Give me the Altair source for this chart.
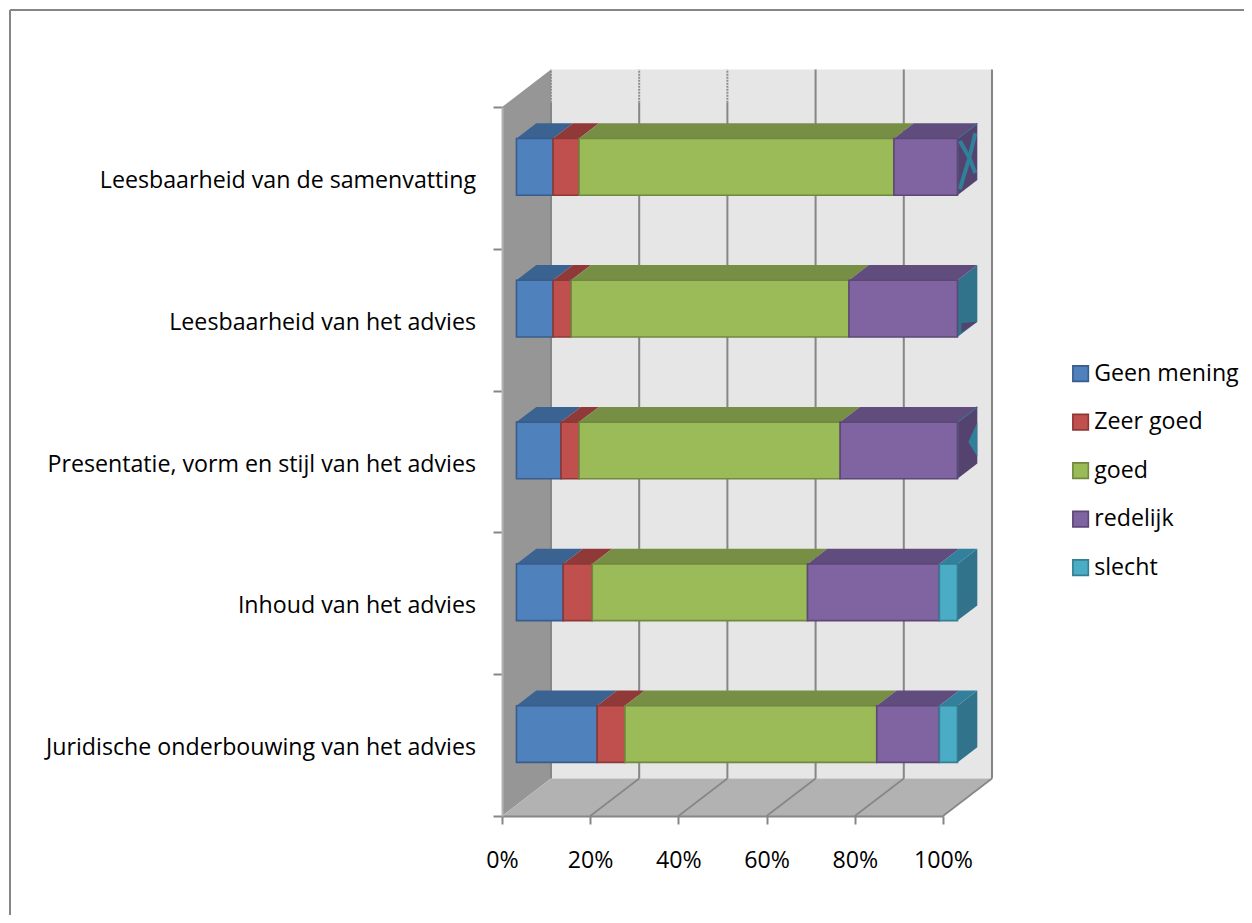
import altair as alt
import pandas as pd

# ---- data (percent of each row) ----
categories = [
    "Juridische onderbouwing van het advies",
    "Inhoud van het advies",
    "Presentatie, vorm en stijl van het advies",
    "Leesbaarheid van het advies",
    "Leesbaarheid van de samenvatting",
]
series = ["Geen mening", "Zeer goed", "goed", "redelijk", "slecht"]
geen_mening = [18.3, 10.6, 10.1, 8.3, 8.3]
zeer_goed = [6.3, 6.6, 4.1, 4.1, 5.9]
goed = [57.1, 48.8, 59.2, 63.0, 71.4]
redelijk = [14.2, 29.9, 26.6, 24.6, 14.4]
slecht = [4.1, 4.1, 0.0, 0.0, 0.0]
x_ticks = [0, 20, 40, 60, 80, 100]
y_ticks = [0, 1, 2, 3, 4, 5]

front_colors = ["#4F81BD", "#C0504D", "#9BBB59", "#8064A2", "#4BACC6"]
edge_colors = ["#385D8A", "#8C3836", "#71893F", "#5C4776", "#357D91"]
top_colors = ["#3A6391", "#8F3A38", "#778F45", "#604C7D", "#33809C"]
side_colors = ["#3A6391", "#8F3A38", "#778F45", "#55436F", "#31738A"]
TEAL = "#31809A"
PURPLE_SIDE = "#55436F"

# ---- 3-D projection, in data units ----
DX = 11.11   # full depth of the box along x
DY = 0.2645  # full depth of the box along y
BAR_FRONT, BAR_BACK = 0.295, 0.70   # depth of the bars inside the box
BAR_HALF = 0.2                      # half height of a bar in category units
AXIS_COL = "#868686"
FONT = "Open Sans"
FONT_SIZE = 23.2


def px(v, d):
    return v + d * DX


def py(s, d):
    return s + d * DY


def face(r, f, h):
    """A point on the right-hand end of bar r: f along the depth, h around the bar centre."""
    d = BAR_FRONT + f * (BAR_BACK - BAR_FRONT)
    return px(100, d), py(r + 0.5 + h, d)


X = alt.Scale(domain=[0, 100], nice=False, zero=False)
Y = alt.Scale(domain=[0, 5], nice=False, zero=False)
X_AXIS = alt.Axis(values=x_ticks, labelExpr="datum.value + '%'", grid=False, tickSize=8, tickWidth=2,
                  tickColor=AXIS_COL, domainColor=AXIS_COL, domainWidth=2, labelFont=FONT,
                  labelFontSize=FONT_SIZE, labelColor="#000000", labelPadding=25, zindex=1, title=None,
                  labelFlush=False, labelOverlap=False, labelBound=False)
Y_AXIS = alt.Axis(values=y_ticks, labels=False, grid=False, tickSize=9, tickWidth=2,
                  tickColor=AXIS_COL, domainColor="#B4B4B4", domainWidth=2, zindex=1, title=None)


def xq(field="x"):
    return alt.X(f"{field}:Q", scale=X, axis=X_AXIS, title=None)


def yq(field="y"):
    return alt.Y(f"{field}:Q", scale=Y, axis=Y_AXIS, title=None)


values = [geen_mening, zeer_goed, goed, redelijk, slecht]
front, tops, sides = [], [], []
for r, cat in enumerate(categories):
    c = 0.0
    for k, name in enumerate(series):
        v = values[k][r]
        if v > 0:
            yc = r + 0.5
            y0, y1 = yc - BAR_HALF, yc + BAR_HALF
            front.append(dict(series=name, x=px(c, BAR_FRONT), x2=px(c + v, BAR_FRONT),
                              y=py(y0, BAR_FRONT), y2=py(y1, BAR_FRONT)))
            for d in (BAR_FRONT, BAR_BACK):
                tops.append(dict(id=f"{r}-{k}", series=name, x=px(c, d), x2=px(c + v, d), y=py(y1, d)))
        c += v
    last = "slecht" if slecht[r] > 0 or r == 3 else "redelijk"
    for d in (BAR_FRONT, BAR_BACK):
        sides.append(dict(id=str(r), series=last, x=px(100, d),
                          y=py(r + 0.5 - BAR_HALF, d), y2=py(r + 0.5 + BAR_HALF, d)))

front_df = pd.DataFrame(front)
top_df = pd.DataFrame(tops)
side_df = pd.DataFrame(sides)

# flicker on the end faces of the bars whose "slecht" share is nil
B = BAR_HALF


def line_rows(name, pts):
    rows = []
    for i, (f, h, r) in enumerate(pts):
        xv, yv = face(r, f, h)
        rows.append(dict(id=name, seq=i, x=xv, y=yv))
    return rows


edge_rows = []
for r in (2, 4):
    edge_rows += line_rows(f"edge{r}", [(0, -B, r), (0, B, r), (1, B, r)])
x_rows = line_rows("xa", [(0.12, B * 0.85, 4), (0.6, 0, 4), (0.12, -B * 0.85, 4)]) + line_rows(
    "xb", [(0.9, B * 0.7, 4), (0.6, 0, 4), (0.9, -B * 0.7, 4)])
edge_df = pd.DataFrame(edge_rows)
x_df = pd.DataFrame(x_rows)

patches = []


def add_patch(name, r, rows):
    for f, lo, hi in rows:
        xv, yv = face(r, f, lo)
        _, yv2 = face(r, f, hi)
        patches.append(dict(id=name, series=name.split("-")[0], x=xv, y=yv, y2=yv2))


add_patch("teal-3", 2, [(0.55, 0.0, 0.0), (1.0, -0.15, 0.09)])
add_patch("purple-2", 3, [(0.2, -B + 0.01, -B + 0.075), (1.0, -B, -B)])
patch_df = pd.DataFrame(patches)

# walls and floor
left_wall = pd.DataFrame([dict(x=px(0, d), y=py(0, d), y2=py(5, d)) for d in (0, 1)])
back_wall = pd.DataFrame([dict(x=px(0, 1), x2=px(100, 1), y=py(0, 1), y2=py(5, 1))])
floor = pd.DataFrame([dict(x=px(0, d), x2=px(100, d), y=py(0, d)) for d in (0, 1)])
solid_top = 5.03
grid = pd.DataFrame([dict(x=px(t, 1), y=py(0, 1), y2=py(5, 1) if t > 40 else solid_top) for t in x_ticks])
squiggle = pd.DataFrame([dict(x=px(t, 1), y=solid_top, y2=py(5, 1)) for t in x_ticks if t <= 40])
floor_lines = pd.DataFrame([dict(t=t, x=px(t, d), y=py(0, d)) for t in x_ticks[1:] for d in (0, 1)])

wall_left = alt.Chart(left_wall).mark_area(color="#969696", opacity=1).encode(
    x=xq(), y=yq(), y2="y2:Q")
wall_back = alt.Chart(back_wall).mark_rect(color="#E6E6E6").encode(
    x=xq(), x2="x2:Q", y=yq(), y2="y2:Q")
floor_plane = alt.Chart(floor).mark_area(color="#B2B2B2", orient="horizontal", opacity=1).encode(
    y=yq(), x=xq(), x2="x2:Q")
grid_rules = alt.Chart(grid).mark_rule(color=AXIS_COL, strokeWidth=2).encode(
    x=xq(), y=yq(), y2="y2:Q")
grid_soft = alt.Chart(squiggle).mark_rule(color="#8E8E8E", strokeWidth=2, strokeDash=[2, 1]).encode(
    x=xq(), y=yq(), y2="y2:Q")
floor_rules = alt.Chart(floor_lines).mark_line(color=AXIS_COL, strokeWidth=1.6).encode(
    x=xq(), y=yq(), detail="t:N")

top_faces = alt.Chart(top_df).mark_area(orient="horizontal", opacity=1).encode(
    y=yq(), x=xq(), x2="x2:Q", detail="id:N",
    fill=alt.Fill("series:N", scale=alt.Scale(domain=series, range=top_colors), legend=None),
)
side_faces = alt.Chart(side_df).mark_area(opacity=1).encode(
    x=xq(), y=yq(), y2="y2:Q", detail="id:N",
    fill=alt.Fill("series:N", scale=alt.Scale(domain=series, range=side_colors), legend=None),
)
side_patches = alt.Chart(patch_df).mark_area(opacity=1).encode(
    x=xq(), y=yq(), y2="y2:Q", detail="id:N",
    fill=alt.Fill("series:N", scale=alt.Scale(domain=["teal", "purple"], range=[TEAL, PURPLE_SIDE]), legend=None),
)
side_edges = alt.Chart(edge_df).mark_line(color=TEAL, strokeWidth=1.6).encode(
    x=alt.X("x:Q", scale=X, axis=X_AXIS, title=None, sort=None),
    y=yq(), detail="id:N", order="seq:Q",
)
side_x = alt.Chart(x_df).mark_line(color=TEAL, strokeWidth=4).encode(
    x=alt.X("x:Q", scale=X, axis=X_AXIS, title=None, sort=None),
    y=yq(), detail="id:N", order="seq:Q",
)

legend = alt.Legend(orient="none", legendX=567, legendY=255, title=None,
                    symbolType="square", symbolSize=240, symbolStrokeWidth=1.6,
                    labelFont=FONT, labelFontSize=FONT_SIZE, labelColor="#000000",
                    rowPadding=24.5, labelOffset=2, symbolOpacity=1)
front_faces = alt.Chart(front_df).mark_rect(strokeWidth=1.6).encode(
    x=xq(), x2="x2:Q", y=yq(), y2="y2:Q",
    fill=alt.Fill("series:N", scale=alt.Scale(domain=series, range=front_colors), legend=legend),
    stroke=alt.Stroke("series:N", scale=alt.Scale(domain=series, range=edge_colors), legend=legend),
)

labels = alt.Chart(pd.DataFrame({"cat": categories, "pos": [i + 0.5 for i in range(5)], "x": [0.0] * 5})).mark_text(
    align="right", baseline="middle", dx=-26, dy=3, font=FONT, fontSize=FONT_SIZE, color="#000000"
).encode(x=xq(), y=yq("pos"), text="cat:N")

border_left = alt.Chart(pd.DataFrame({"a": [0]})).mark_rule(color=AXIS_COL, strokeWidth=2).encode(
    x=alt.value(-492), y=alt.value(-97), y2=alt.value(808))
border_top = alt.Chart(pd.DataFrame({"a": [0]})).mark_rule(color=AXIS_COL, strokeWidth=2).encode(
    y=alt.value(-97), x=alt.value(-492), x2=alt.value(742))

chart = alt.layer(
    wall_left, wall_back, floor_plane, grid_rules, grid_soft, floor_rules,
    side_faces, side_patches, side_edges, side_x, top_faces, front_faces, labels, border_left, border_top,
).resolve_scale(fill="independent", stroke="independent").properties(
    width=441, height=709,
    padding={"left": 494, "top": 99, "right": 301, "bottom": 99},
    autosize=alt.AutoSizeParams(type="none"),
    background="#FFFFFF",
).configure_view(stroke=None)

chart.save("out.html", embed_options={"renderer": "svg", "actions": False})
